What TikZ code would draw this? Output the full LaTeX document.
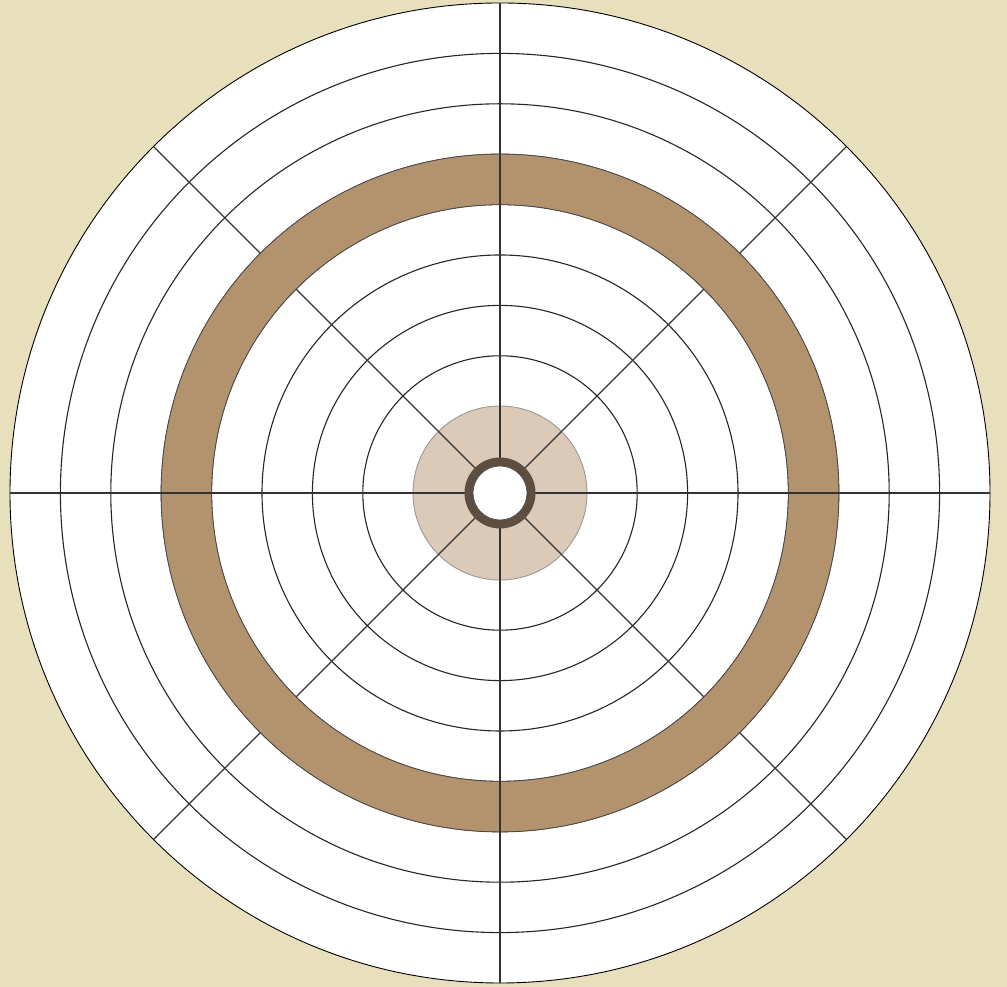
\documentclass[tikz,border=0pt]{standalone}
\begin{document}
\begin{tikzpicture}[x=1pt,y=1pt,
  gridline/.style={draw=black!85,line width=1.1pt},
  spoke/.style={draw=black!80,line width=1.1pt}]
\definecolor{bg}{RGB}{232,223,188}
\definecolor{ringbrown}{RGB}{179,147,110}
\definecolor{disctan}{RGB}{219,202,184}
\definecolor{darkring}{RGB}{94,78,64}
\fill[bg] (0,0) rectangle (1007,987);
\useasboundingbox (0,0) rectangle (1007,987);
\coordinate (c) at (500,494);
\fill[white] (c) circle (490);
% tan disc
\fill[disctan,draw=black!40,line width=0.9pt] (c) circle (87);
% rings
\foreach \r in {137.2,187.6,238,288.4,338.8,389.2,439.6}
  \draw[gridline] (c) circle (\r);
\draw[black,line width=0.9pt] (c) circle (490);
% diagonal spokes
\foreach \a in {45,135,225,315}
  \draw[spoke] (c) -- ++(\a:490);
% brown ring
\fill[ringbrown,even odd rule,draw=black!70,line width=0.6pt] (c) circle (338.8) (c) circle (288.4);
% axis spokes
\foreach \a in {0,90,180,270}
  \draw[spoke] (c) -- ++(\a:490);
% dark ring and hole
\fill[darkring] (c) circle (35.5);
\fill[white,draw=black!70,line width=0.7pt] (c) circle (27);
\end{tikzpicture}
\end{document}
